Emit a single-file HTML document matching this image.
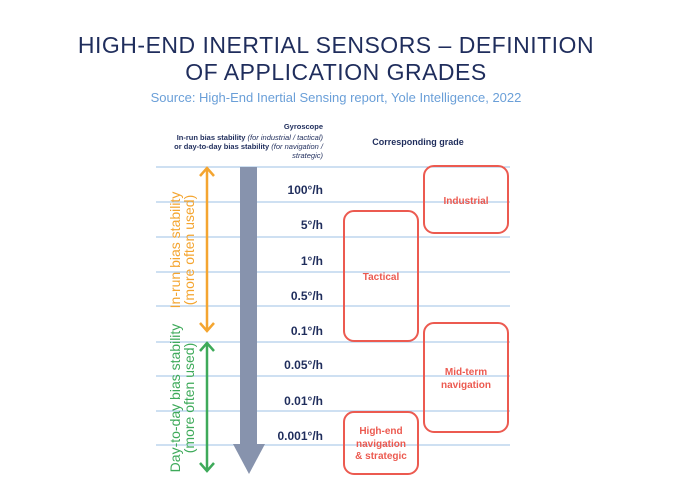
<!DOCTYPE html>
<html><head><style>
body{margin:0;width:673px;height:494px;background:#fff;font-family:"Liberation Sans",sans-serif;overflow:hidden}
</style></head><body>
<svg width="673" height="494" xmlns="http://www.w3.org/2000/svg" font-family="Liberation Sans, sans-serif">
<text x="336" y="53" text-anchor="middle" font-size="23" letter-spacing="0.5" fill="#1f2d5c">HIGH-END INERTIAL SENSORS – DEFINITION</text>
<text x="336" y="80" text-anchor="middle" font-size="23" letter-spacing="0.5" fill="#1f2d5c">OF APPLICATION GRADES</text>
<text x="336" y="102" text-anchor="middle" font-size="13" fill="#6a9fd8">Source: High-End Inertial Sensing report, Yole Intelligence, 2022</text>
<g font-size="7.5" fill="#1f2d5c" text-anchor="end">
<text x="323" y="129" font-weight="bold">Gyroscope</text>
<text x="323" y="140"><tspan font-weight="bold">In-run bias stability</tspan> <tspan font-style="italic">(for industrial / tactical)</tspan></text>
<text x="323" y="149"><tspan font-weight="bold">or day-to-day bias stability</tspan> <tspan font-style="italic">(for navigation /</tspan></text>
<text x="323" y="158" font-style="italic">strategic)</text>
</g>
<text x="418" y="145" text-anchor="middle" font-size="9" font-weight="bold" fill="#1f2d5c">Corresponding grade</text>
<g stroke="#9cc0e6" stroke-width="1">
<line x1="156" y1="167" x2="510" y2="167"/><line x1="156" y1="202" x2="510" y2="202"/>
<line x1="156" y1="237" x2="510" y2="237"/><line x1="156" y1="272" x2="510" y2="272"/>
<line x1="156" y1="306" x2="510" y2="306"/><line x1="156" y1="342" x2="510" y2="342"/>
<line x1="156" y1="376" x2="510" y2="376"/><line x1="156" y1="411" x2="510" y2="411"/>
<line x1="156" y1="445" x2="510" y2="445"/>
</g>
<rect x="240" y="167" width="17" height="278" fill="#8793ad"/>
<polygon points="233,444 265,444 249,474" fill="#8793ad"/>
<g font-size="12" font-weight="bold" fill="#1f2d5c" text-anchor="end">
<text x="323" y="194">100°/h</text><text x="323" y="229">5°/h</text>
<text x="323" y="265">1°/h</text><text x="323" y="300">0.5°/h</text>
<text x="323" y="335">0.1°/h</text><text x="323" y="369">0.05°/h</text>
<text x="323" y="405">0.01°/h</text><text x="323" y="440">0.001°/h</text>
</g>
<g stroke="#f4a530" stroke-width="2.5" fill="none">
<line x1="207" y1="168" x2="207" y2="331"/>
<polyline points="200,176 207,168 214,176"/><polyline points="200,323 207,331 214,323"/>
</g>
<g stroke="#3eaa5a" stroke-width="2.5" fill="none">
<line x1="207" y1="343" x2="207" y2="471"/>
<polyline points="200,351 207,343 214,351"/><polyline points="200,463 207,471 214,463"/>
</g>
<g font-size="14" fill="#f4a530" text-anchor="middle">
<text transform="translate(180,250) rotate(-90)">In-run bias stability</text>
<text transform="translate(194,250) rotate(-90)">(more often used)</text>
</g>
<g font-size="14" fill="#3eaa5a" text-anchor="middle">
<text transform="translate(180,398) rotate(-90)">Day-to-day bias stability</text>
<text transform="translate(194,398) rotate(-90)">(more often used)</text>
</g>
<g stroke="#ec5a50" stroke-width="2" fill="none">
<rect x="424" y="166" width="84" height="67" rx="10"/>
<rect x="344" y="211" width="74" height="130" rx="10"/>
<rect x="424" y="323" width="84" height="109" rx="10"/>
<rect x="344" y="412" width="74" height="62" rx="10"/>
</g>
<g font-size="10" font-weight="bold" fill="#ec5a50" text-anchor="middle">
<text x="466" y="204">Industrial</text>
<text x="381" y="280">Tactical</text>
<text x="466" y="375">Mid-term</text><text x="466" y="388">navigation</text>
<text x="381" y="434">High-end</text><text x="381" y="447">navigation</text><text x="381" y="459">&amp; strategic</text>
</g>
</svg>
</body></html>
